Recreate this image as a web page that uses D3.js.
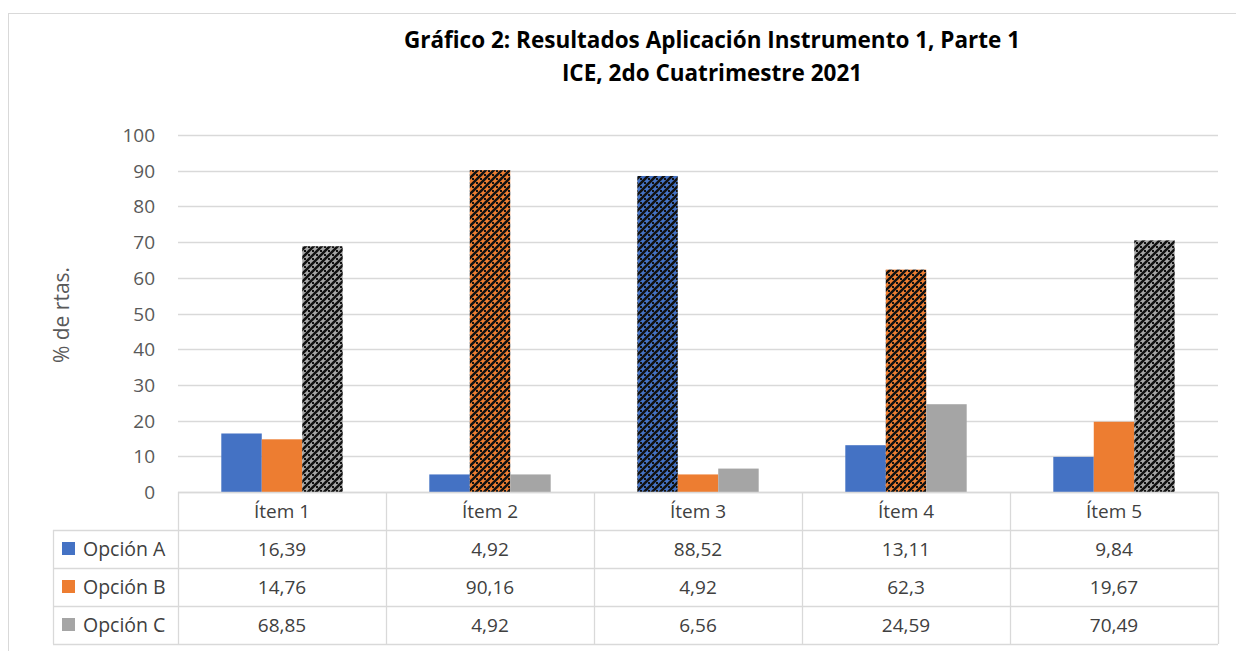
<!DOCTYPE html>
<html lang="en">
<head>
<meta charset="UTF-8">
<title>Gráfico 2</title>
<script src="https://d3js.org/d3.v7.min.js"></script>
<style>
  body { margin: 0; background: #fff; }
  text { font-family: "Open Sans", "Noto Sans", sans-serif; }
</style>
</head>
<body>
<svg width="1236" height="651" id="chart"></svg>
<script>
const items = ["Ítem 1", "Ítem 2", "Ítem 3", "Ítem 4", "Ítem 5"];
const series = ["Opción A", "Opción B", "Opción C"];
const opcionA = [16.39, 4.92, 88.52, 13.11, 9.84];
const opcionB = [14.76, 90.16, 4.92, 62.3, 19.67];
const opcionC = [68.85, 4.92, 6.56, 24.59, 70.49];
const yTicks = [0, 10, 20, 30, 40, 50, 60, 70, 80, 90, 100];

const values = [opcionA, opcionB, opcionC];
const colors = ["#4472C4", "#ED7D31", "#A5A5A5"];

const svg = d3.select("#chart");
const plotLeft = 178, plotRight = 1218, plotTop = 135, plotBottom = 492;
const rowH = 38;

// outer chart border
svg.append("rect")
    .attr("x", 8.5).attr("y", 13.5)
    .attr("width", 1240).attr("height", 660)
    .attr("fill", "none").attr("stroke", "#d9d9d9").attr("stroke-width", 1);

// patterns for highlighted bars (diagonal zigzag, colour on black)
const defs = svg.append("defs");
colors.forEach((c, i) => {
    const p = defs.append("pattern")
        .attr("id", "pat" + i)
        .attr("patternUnits", "userSpaceOnUse")
        .attr("width", 8).attr("height", 8);
    p.append("rect").attr("width", 8).attr("height", 8).attr("fill", c);
    p.append("path")
        .attr("d", "M0,8 L8,0 M-2,2 L2,-2 M6,10 L10,6")
        .attr("stroke", "#111").attr("stroke-width", 2.6);
    p.append("rect").attr("x", 0).attr("y", 2).attr("width", 2).attr("height", 2).attr("fill", "#111");
    p.append("rect").attr("x", 4).attr("y", 6).attr("width", 2).attr("height", 2).attr("fill", "#111");
});

const x0 = d3.scaleBand().domain(items).range([plotLeft, plotRight]);
const x1 = d3.scaleBand().domain(series)
    .range([0, x0.bandwidth()]).paddingOuter(1.07);
const y = d3.scaleLinear().domain([0, 100]).range([plotBottom, plotTop]);

// gridlines
svg.append("g").selectAll("line")
    .data(yTicks)
    .join("line")
    .attr("x1", plotLeft).attr("x2", plotRight)
    .attr("y1", d => Math.round(y(d)) + 0.5).attr("y2", d => Math.round(y(d)) + 0.5)
    .attr("stroke", "#d9d9d9").attr("stroke-width", 1.3);

// y tick labels
svg.append("g").selectAll("text")
    .data(yTicks)
    .join("text")
    .attr("x", 155).attr("y", d => y(d) + 7)
    .attr("text-anchor", "end")
    .attr("font-size", 19).attr("fill", "#595959")
    .text(d => d);

// bars
items.forEach((item, j) => {
    const maxVal = d3.max(values, v => v[j]);
    series.forEach((s, i) => {
        const v = values[i][j];
        svg.append("rect")
            .attr("x", x0(item) + x1(s))
            .attr("y", y(v))
            .attr("width", x1.bandwidth())
            .attr("height", plotBottom - y(v))
            .attr("fill", v === maxVal ? "url(#pat" + i + ")" : colors[i]);
    });
});

// data table
const tbl = svg.append("g");
const lineCol = "#d9d9d9";
tbl.append("line").attr("x1", plotLeft).attr("x2", plotRight)
    .attr("y1", plotBottom + 0.5).attr("y2", plotBottom + 0.5)
    .attr("stroke", lineCol).attr("stroke-width", 1.3);
[1, 2, 3, 4].forEach(r => {
    tbl.append("line").attr("x1", 53).attr("x2", plotRight)
        .attr("y1", plotBottom + r * rowH + 0.5).attr("y2", plotBottom + r * rowH + 0.5)
        .attr("stroke", lineCol).attr("stroke-width", 1.3);
});
tbl.append("line").attr("x1", 53.5).attr("x2", 53.5)
    .attr("y1", plotBottom + rowH).attr("y2", plotBottom + 4 * rowH)
    .attr("stroke", lineCol).attr("stroke-width", 1.3);
d3.range(items.length + 1).forEach(k => {
    const xx = plotLeft + k * x0.bandwidth() + 0.5;
    tbl.append("line").attr("x1", xx).attr("x2", xx)
        .attr("y1", plotBottom).attr("y2", plotBottom + 4 * rowH)
        .attr("stroke", lineCol).attr("stroke-width", 1.3);
});
// header
tbl.selectAll("text.hdr")
    .data(items)
    .join("text")
    .attr("class", "hdr")
    .attr("x", d => x0(d) + x0.bandwidth() / 2)
    .attr("y", plotBottom + rowH / 2 + 7)
    .attr("text-anchor", "middle")
    .attr("font-size", 19).attr("fill", "#404040")
    .text(d => d);
// rows
series.forEach((s, i) => {
    const cy = plotBottom + (i + 1) * rowH + rowH / 2;
    tbl.append("rect")
        .attr("x", 62).attr("y", cy - 7).attr("width", 13).attr("height", 13)
        .attr("fill", colors[i]);
    tbl.append("text")
        .attr("x", 83).attr("y", cy + 7)
        .attr("font-size", 19.5).attr("fill", "#404040")
        .text(s);
    items.forEach((it, j) => {
        tbl.append("text")
            .attr("x", x0(it) + x0.bandwidth() / 2)
            .attr("y", cy + 7)
            .attr("text-anchor", "middle")
            .attr("font-size", 19).attr("fill", "#404040")
            .text(String(values[i][j]).replace(".", ","));
    });
});

// y axis title
svg.append("text")
    .attr("transform", "translate(69,315) rotate(-90)")
    .attr("text-anchor", "middle")
    .attr("font-size", 21).attr("fill", "#595959")
    .text("% de rtas.");

// title
const title = svg.append("text")
    .attr("text-anchor", "middle")
    .attr("font-size", 22.5).attr("font-weight", "bold").attr("fill", "#000");
title.append("tspan").attr("x", 712).attr("y", 48)
    .text("Gráfico 2: Resultados Aplicación Instrumento 1, Parte 1");
title.append("tspan").attr("x", 712).attr("y", 81)
    .text("ICE, 2do Cuatrimestre 2021");
</script>
</body>
</html>
